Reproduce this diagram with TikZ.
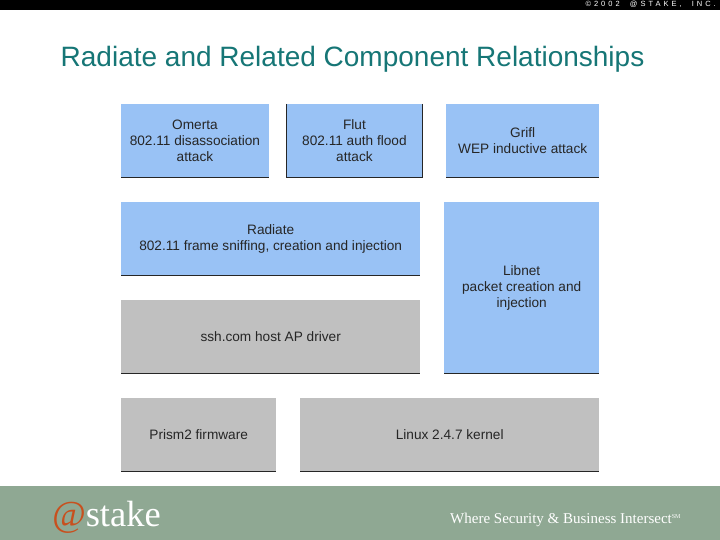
\documentclass[tikz,border=0pt]{standalone}
\usepackage{fontspec}
\setmainfont{Liberation Sans}
\newfontfamily\logofont{Liberation Serif}
\definecolor{boxblue}{HTML}{99C2F5}
\definecolor{boxgray}{HTML}{C0C0C0}
\definecolor{footgreen}{HTML}{8FA893}
\definecolor{titleteal}{HTML}{167676}
\definecolor{logoorange}{HTML}{C8501E}
\tikzset{
  bluebox/.style={fill=boxblue,draw=none,inner sep=0pt,anchor=north west,align=center,font=\fontsize{13.65}{16}\selectfont,text=black!85},
  graybox/.style={bluebox,fill=boxgray},
  baseline rule/.style={draw=black!85,line width=0.9pt},
}
\newcommand{\labox}[7]{% name, style, x, y, w, h, text
  \node[#2,minimum width=#5pt,minimum height=#6pt] (#1) at (#3,#4) {#7};
  \draw[baseline rule] (#1.south west) -- (#1.south east);
}
\begin{document}
\begin{tikzpicture}[x=1pt,y=-1pt]
\useasboundingbox (0,0) rectangle (720,540);
\fill[white] (0,0) rectangle (720,540);
\fill[black] (0,0) rectangle (720,10);
\node[anchor=east,inner sep=0pt,text=white,font=\fontsize{7.5}{8}\selectfont] (copy) at (716,4.5)
  {\addfontfeature{LetterSpace=40}©2002 \ @STAKE, \ INC.};
\node[anchor=west,inner sep=0pt,text=titleteal,font=\fontsize{28}{30}\selectfont] (title) at (60.5,59.5)
  {Radiate and Related Component Relationships};
\labox{omerta}{bluebox}{121}{104}{147.5}{73.5}{Omerta\\802.11 disassociation\\attack}
\labox{flut}{bluebox}{286.5}{104}{135.5}{73.5}{Flut\\802.11 auth flood\\attack}
\draw[baseline rule] (flut.north west) -- (flut.south west) (flut.north east) -- (flut.south east);
\labox{grifl}{bluebox}{446}{104}{153}{73.5}{Grifl\\WEP inductive attack}
\labox{radiate}{bluebox}{121}{202}{299}{73.5}{Radiate\\802.11 frame sniffing, creation and injection}
\labox{libnet}{bluebox}{444}{202}{155}{171.5}{Libnet\\packet creation and\\injection}
\labox{ssh}{graybox}{121}{300}{299}{73.5}{ssh.com host AP driver}
\labox{prism}{graybox}{121}{398}{155}{73.5}{Prism2 firmware}
\labox{linux}{graybox}{300}{398}{299}{73.5}{Linux 2.4.7 kernel}
\fill[footgreen] (0,486) rectangle (720,540);
\node[anchor=base west,inner sep=0pt,font=\logofont\fontsize{36.5}{38}\selectfont] (logo) at (52,526)
  {\textcolor{logoorange}{\textit{@}}\textcolor{white}{stake}};
\node[anchor=base west,inner sep=0pt,text=white,font=\logofont\fontsize{15}{15}\selectfont] (tag) at (450,523)
  {Where Security \& Business Intersect\raisebox{5pt}{\fontsize{6}{6}\selectfont SM}};
\end{tikzpicture}
\end{document}
